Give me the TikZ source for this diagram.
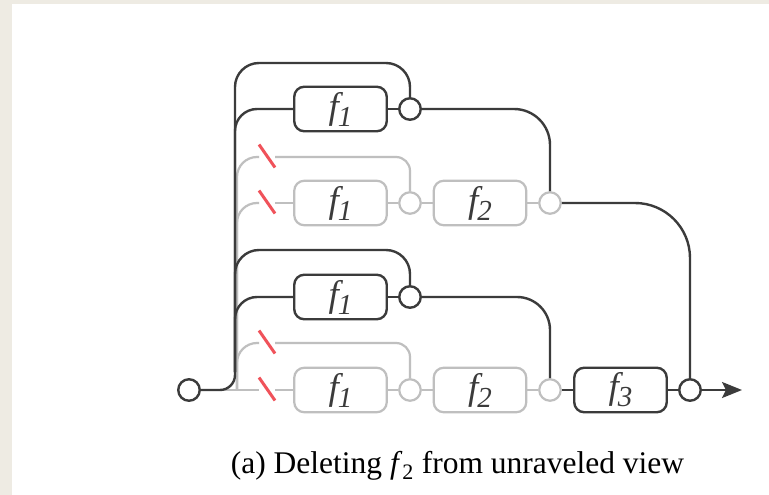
\documentclass[tikz,border=0pt]{standalone}
\usepackage{fontspec}
\setmainfont{Liberation Serif}
\usetikzlibrary{arrows.meta,calc}

\definecolor{pagebg}{HTML}{EEEBE3}
\definecolor{dkc}{HTML}{3B3B3B}
\definecolor{ltc}{HTML}{BFBFBF}
\definecolor{cutred}{HTML}{F0525A}

% box label: italic f with a lowered italic index
\newcommand\flab[1]{{\fontsize{37}{37}\selectfont\itshape f\kern-1pt\raisebox{-8pt}{\fontsize{29}{29}\selectfont #1}}}

\begin{document}
\begin{tikzpicture}[x=1pt,y=-1pt,
  dk/.style={draw=dkc, line width=2.4pt},
  lt/.style={draw=ltc, line width=2.2pt},
  fbox/.style={rounded corners=10pt, minimum width=92.5pt, minimum height=44.5pt,
               inner sep=0pt, fill=white, text=dkc},
  jn/.style={circle, minimum size=21.5pt, inner sep=0pt, fill=white},
  cut/.style={draw=cutred, line width=3pt}]

% page background
\fill[pagebg] (0,0) rectangle (769,495);
\fill[white] (12,4) rectangle (769,495);
\useasboundingbox (0,0) rectangle (769,495);

% ---- nodes ----
\node[jn, dk] (in) at (189,390) {};

% upper unrolled copy
\node[fbox, dk] (a1)  at (340.5,109) {\flab{1}};
\node[jn, dk]   (a1j) at (410,109) {};
\node[fbox, lt] (b1)  at (340.5,203) {\flab{1}};
\node[jn, lt]   (b1j) at (410,203) {};
\node[fbox, lt] (b2)  at (480,203) {\flab{2}};
\node[jn, lt]   (b2j) at (550,203) {};

% lower unrolled copy
\node[fbox, dk] (c1)  at (340.5,297) {\flab{1}};
\node[jn, dk]   (c1j) at (410,297) {};
\node[fbox, lt] (d1)  at (340.5,390) {\flab{1}};
\node[jn, lt]   (d1j) at (410,390) {};
\node[fbox, lt] (d2)  at (480,390) {\flab{2}};
\node[jn, lt]   (d2j) at (550,390) {};
\node[fbox, dk] (d3)  at (620.5,390) {\flab{3}};
\node[jn, dk]   (out) at (690,390) {};
\coordinate (end) at (742,390);

% trunk points and cut marks
\coordinate (tk) at (235,372);
\coordinate (gt) at (237,390);
\coordinate (s2) at (267,156);
\coordinate (s3) at (267,202);
\coordinate (s6) at (267,342);
\coordinate (s7) at (267,389);

% ---- deleted (gray) paths ----
\draw[lt] (in.east) -- (259,390);
\draw[lt] (275,390) -- (d1.west);
\draw[lt] (d1) -- (d1j) -- (d2) -- (d2j);
\draw[lt, rounded corners=20pt] (gt) -- (237,343) -- (259,343);
\draw[lt, rounded corners=14pt] (275,343) -| (d1j.north);
\draw[lt, rounded corners=20pt] (gt) -- (gt |- b1) -- (259,203);
\draw[lt] (275,203) -- (b1.west);
\draw[lt] (b1) -- (b1j) -- (b2) -- (b2j);
\draw[lt, rounded corners=20pt] (gt) -- (237,157) -- (259,157);
\draw[lt, rounded corners=14pt] (275,157) -| (b1j.north);

% ---- kept (dark) paths ----
\draw[dk, rounded corners=15pt] (in.east) -- (235,390) -- (tk);
% lower copy
\draw[dk, rounded corners=22pt] (tk) -- (tk |- c1) -- (c1.west);
\draw[dk] (c1) -- (c1j);
\draw[dk, rounded corners=24pt] (tk) -- (235,250) -- (410,250) [rounded corners=17pt] -- (c1j.north);
\draw[dk, rounded corners=33pt] (c1j.east) -| (d2j.north);
\draw[dk] (d2j) -- (d3) -- (out);
% upper copy
\draw[dk, rounded corners=22pt] (tk) -- (tk |- a1) -- (a1.west);
\draw[dk] (a1) -- (a1j);
\draw[dk, rounded corners=24pt] (tk) -- (235,63) -- (410,63) [rounded corners=17pt] -- (a1j.north);
\draw[dk, rounded corners=36pt] (a1j.east) -| (b2j.north);
\draw[dk, rounded corners=55pt] (b2j.east) -| (out.north);
\draw[dk, -{Stealth[length=20pt, width=16pt, inset=4pt]}] (out.east) -- (end);

% cut marks on the deleted inputs
\foreach \s in {s2,s3,s6,s7}
  \draw[cut] ($(\s)+(-8,-11.5)$) -- ($(\s)+(8,11.5)$);

% caption
\node[anchor=base, inner sep=0pt, text=black] (cap) at (457.5,473)
  {\fontsize{31.5}{36}\selectfont (a) Deleting \textit{f}\textsubscript{2} from unraveled view};
\end{tikzpicture}
\end{document}
